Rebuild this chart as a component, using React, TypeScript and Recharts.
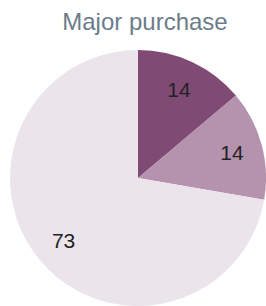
import { PieChart, Pie, Cell } from 'recharts';

const categories = ['Yes', 'Maybe', 'No'];
const values = [14, 14, 73];
const COLORS = ['#7f4a74', '#b592ad', '#ece4eb'];

const FONT = '"Liberation Sans", Arial, sans-serif';

const chartData = categories.map((name, i) => ({ name, value: values[i] }));

const RADIAN = Math.PI / 180;

// label sits at ~3/4 of the radius, in the middle of each slice
const renderLabel = (props: any) => {
  const { cx, cy, midAngle, outerRadius, value } = props;
  const r = outerRadius * 0.76;
  const x = cx + r * Math.cos(-midAngle * RADIAN);
  const y = cy + r * Math.sin(-midAngle * RADIAN);
  return (
    <text
      x={x}
      y={y}
      fill="#222"
      fontSize={21}
      fontFamily={FONT}
      textAnchor="middle"
      dominantBaseline="central"
    >
      {value}
    </text>
  );
};

export default function App() {
  return (
    <div style={{ position: 'absolute', left: 0, top: 0, width: 266, height: 306, background: '#fff' }}>
      <div
        style={{
          position: 'absolute',
          top: 7,
          left: 0,
          width: 290,
          textAlign: 'center',
          fontFamily: FONT,
          fontSize: 24,
          color: '#6b7c8b',
          lineHeight: '30px',
        }}
      >
        Major purchase
      </div>
      <PieChart width={266} height={306} margin={{ top: 0, right: 0, bottom: 0, left: 0 }}>
        <Pie
          data={chartData}
          dataKey="value"
          nameKey="name"
          cx={138}
          cy={178}
          outerRadius={128}
          startAngle={90}
          endAngle={-270}
          stroke="none"
          labelLine={false}
          label={renderLabel}
          isAnimationActive={false}
        >
          {chartData.map((entry, index) => (
            <Cell key={`cell-${index}`} fill={COLORS[index]} />
          ))}
        </Pie>
      </PieChart>
    </div>
  );
}
